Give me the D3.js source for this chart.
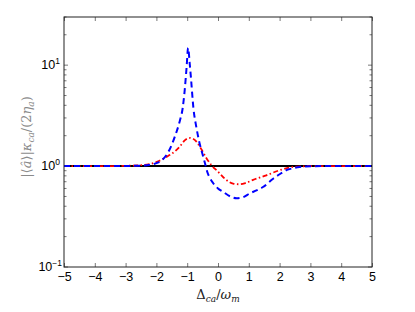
<!DOCTYPE html>
<html>
<head>
<meta charset="utf-8">
<script src="https://cdn.jsdelivr.net/npm/d3@7"></script>
<style>
  body { margin: 0; background: #fff; }
  svg { display: block; }
  .tick text { font-family: "Liberation Sans", Arial, sans-serif; font-size: 12.5px; fill: #000; }
</style>
</head>
<body>
<div id="chart"></div>
<script>
var width = 415;
var height = 312;
var m = { left: 64, top: 17, right: 43, bottom: 45 };
var w = width - m.left - m.right;
var h = height - m.top - m.bottom;

// data
var xTicks = [-5, -4, -3, -2, -1, 0, 1, 2, 3, 4, 5];
var yDecades = [-1, 0, 1];

var blackX = [-5, 5];
var blackY = [1, 1];

var blueX = [-5, -3.5, -3, -2.5, -2.2, -2.0, -1.8, -1.6, -1.4, -1.24, -1.15, -1.08, -1.02, -0.97,
             -0.92, -0.88, -0.8, -0.7, -0.62, -0.5, -0.42, -0.35, -0.26, -0.16, 0.0, 0.17, 0.4,
             0.6, 0.8, 1.03, 1.25, 1.46, 1.79, 2.0, 2.22, 2.45, 2.65, 3.0, 3.5, 4, 5];
var blueY = [1, 1.0, 1.003, 1.01, 1.03, 1.07, 1.16, 1.4, 1.96, 2.8, 3.7, 5.7, 9.5, 14.8,
             10.5, 7.6, 3.8, 2.4, 1.8, 1.3, 1.06, 0.88, 0.76, 0.68, 0.6, 0.555, 0.5,
             0.48, 0.49, 0.536, 0.575, 0.62, 0.75, 0.83, 0.91, 0.955, 0.98, 0.995, 1.0, 1, 1];

var redX = [-5, -3.5, -3, -2.5, -2.2, -1.9, -1.6, -1.4, -1.24, -1.08, -0.9, -0.7, -0.53, -0.37,
            -0.21, 0.0, 0.22, 0.49, 0.7, 0.9, 1.14, 1.57, 2.0, 2.44, 3.0, 4, 5];
var redY = [1, 1.0, 1.005, 1.02, 1.05, 1.13, 1.27, 1.4, 1.56, 1.8, 1.9, 1.75, 1.45, 1.19,
            1.02, 0.88, 0.75, 0.67, 0.66, 0.68, 0.73, 0.81, 0.91, 0.98, 0.998, 1, 1];

var svg = d3.select("#chart").append("svg")
    .attr("width", width)
    .attr("height", height);

var g = svg.append("g")
    .attr("transform", "translate(" + m.left + "," + m.top + ")");

var x = d3.scaleLinear().domain([-5, 5]).range([0, w]);
var y = d3.scaleLog().domain([0.1, 30]).range([h, 0]);

function zip(xs, ys) {
    return xs.map(function(v, i) { return [v, ys[i]]; });
}

var line = d3.line()
    .x(function(d) { return x(d[0]); })
    .y(function(d) { return y(d[1]); })
    .curve(d3.curveMonotoneX);

// minor + major y ticks, both sides
var minor = [];
for (var e = -1; e <= 1; e++) {
    for (var k = 2; k <= 9; k++) {
        var v = k * Math.pow(10, e);
        if (v <= 30) minor.push(v);
    }
}

var tickColor = "#555";

g.selectAll(".yminor")
    .data(minor)
    .enter().append("line")
    .attr("x1", 0).attr("x2", 2.5)
    .attr("y1", function(d) { return y(d); })
    .attr("y2", function(d) { return y(d); })
    .attr("stroke", tickColor).attr("stroke-width", 0.8);

g.selectAll(".yminorR")
    .data(minor)
    .enter().append("line")
    .attr("x1", w).attr("x2", w - 2.5)
    .attr("y1", function(d) { return y(d); })
    .attr("y2", function(d) { return y(d); })
    .attr("stroke", tickColor).attr("stroke-width", 0.8);

g.selectAll(".ymajor")
    .data(yDecades)
    .enter().append("line")
    .attr("x1", 0).attr("x2", 4)
    .attr("y1", function(d) { return y(Math.pow(10, d)); })
    .attr("y2", function(d) { return y(Math.pow(10, d)); })
    .attr("stroke", tickColor).attr("stroke-width", 0.8);

g.selectAll(".ymajorR")
    .data(yDecades)
    .enter().append("line")
    .attr("x1", w).attr("x2", w - 4)
    .attr("y1", function(d) { return y(Math.pow(10, d)); })
    .attr("y2", function(d) { return y(Math.pow(10, d)); })
    .attr("stroke", tickColor).attr("stroke-width", 0.8);

// x axis bottom, ticks pointing in
var xAxis = g.append("g")
    .attr("transform", "translate(0," + h + ")")
    .call(d3.axisBottom(x).tickValues(xTicks).tickSize(-4).tickPadding(5)
        .tickFormat(function(d) { return d < 0 ? "\u2212" + Math.abs(d) : d; }));
xAxis.select(".domain").remove();
xAxis.selectAll(".tick line").attr("stroke", tickColor).attr("stroke-width", 0.8);

var xTop = g.append("g")
    .call(d3.axisTop(x).tickValues(xTicks).tickSize(-4).tickFormat(""));
xTop.select(".domain").remove();
xTop.selectAll(".tick line").attr("stroke", tickColor).attr("stroke-width", 0.8);

// y tick labels 10^n
var ylab = g.selectAll(".ylab")
    .data(yDecades)
    .enter().append("text")
    .attr("x", function(d) { return d < 0 ? -2 : -4; })
    .attr("y", function(d) { return y(Math.pow(10, d)) + 4; })
    .attr("text-anchor", "end")
    .style("font-family", "Liberation Sans, Arial, sans-serif")
    .style("font-size", "12.5px");
ylab.append("tspan").text("10");
ylab.append("tspan")
    .attr("dy", -5)
    .style("font-size", "8.5px")
    .text(function(d) { return d < 0 ? "\u2212" + Math.abs(d) : d; });

// lines
g.append("path")
    .datum(zip(blackX, blackY))
    .attr("d", line)
    .attr("fill", "none")
    .attr("stroke", "#000")
    .attr("stroke-width", 2);

g.append("path")
    .datum(zip(redX, redY))
    .attr("d", line)
    .attr("fill", "none")
    .attr("stroke", "#ff0000")
    .attr("stroke-width", 1.8)
    .attr("stroke-dasharray", "5,2.5,1.5,2.5");

g.append("path")
    .datum(zip(blueX, blueY))
    .attr("d", line)
    .attr("fill", "none")
    .attr("stroke", "#0000ff")
    .attr("stroke-width", 2)
    .attr("stroke-dasharray", "6,4");

// box
g.append("rect")
    .attr("width", w).attr("height", h)
    .attr("fill", "none")
    .attr("stroke", "#222")
    .attr("stroke-width", 1);

// x label
var xl = svg.append("text")
    .attr("x", m.left + w / 2)
    .attr("y", 299)
    .attr("text-anchor", "middle")
    .style("font-family", "DejaVu Serif, serif")
    .style("font-size", "13px")
    .attr("fill", "#222");
xl.append("tspan").text("\u0394");
xl.append("tspan").attr("dy", 3).style("font-size", "9px").style("font-style", "italic").text("ca");
xl.append("tspan").attr("dy", -3).text("/");
xl.append("tspan").style("font-style", "italic").text("\u03c9");
xl.append("tspan").attr("dy", 3).style("font-size", "9px").style("font-style", "italic").text("m");

// y label
var yl = svg.append("text")
    .attr("transform", "translate(31," + (m.top + 120) + ") rotate(-90)")
    .attr("text-anchor", "middle")
    .style("font-family", "DejaVu Serif, serif")
    .style("font-size", "13px")
    .attr("fill", "#8a8a8a");
yl.append("tspan").text("|\u27e8");
yl.append("tspan").style("font-style", "italic").text("\u00e2");
yl.append("tspan").text("\u27e9|");
yl.append("tspan").style("font-style", "italic").text("\u03ba");
yl.append("tspan").attr("dy", 3).style("font-size", "9px").style("font-style", "italic").text("ca");
yl.append("tspan").attr("dy", -3).text("/(2");
yl.append("tspan").style("font-style", "italic").text("\u03b7");
yl.append("tspan").attr("dy", 3).style("font-size", "9px").style("font-style", "italic").text("a");
yl.append("tspan").attr("dy", -3).text(")");
</script>
</body>
</html>
